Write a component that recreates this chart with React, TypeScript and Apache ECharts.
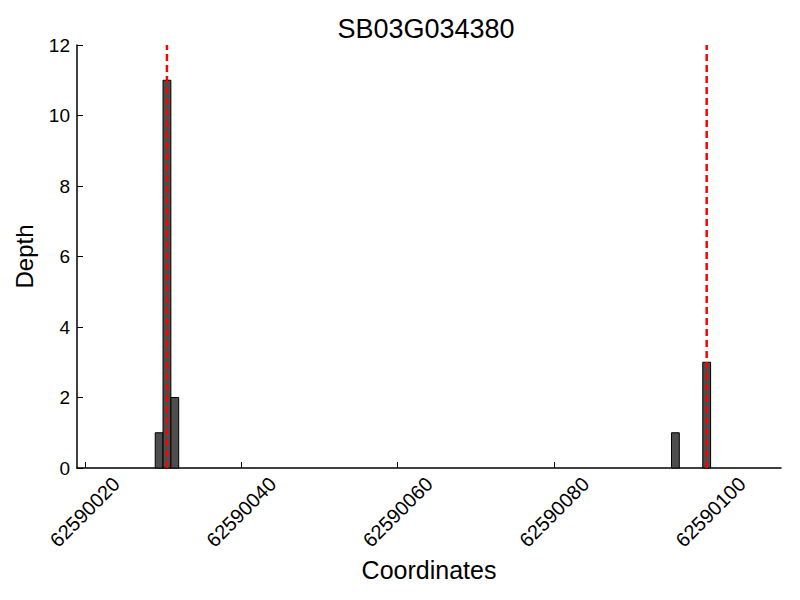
import React, { useEffect, useRef } from "react";
import * as echarts from "echarts";

const title = "SB03G034380";
const binStarts = [62590029, 62590030, 62590031, 62590095, 62590099];
const depths = [1, 11, 2, 1, 3];
const markerPositions = [62590030.5, 62590099.5];
const xTicks = [62590020, 62590040, 62590060, 62590080, 62590100];
const xMin = 62590019;
const xMax = 62590109;
const yMax = 12;

export default function App() {
  const ref = useRef<HTMLDivElement>(null);
  useEffect(() => {
    if (!ref.current) return;
    const chart = echarts.init(ref.current, null, { renderer: "svg" });
    const font = "Liberation Sans, Arial, sans-serif";
    chart.setOption({
      animation: false,
      backgroundColor: "#fff",
      title: {
        text: title,
        left: 421,
        top: 10,
        textAlign: "center",
        textStyle: { fontFamily: font, fontSize: 27, fontWeight: "normal", color: "#000" },
      },
      grid: { left: 77, top: 45, width: 704, height: 423, containLabel: false, outerBoundsMode: "none" },
      xAxis: {
        type: "value",
        min: xMin,
        max: xMax,
        name: "Coordinates",
        nameLocation: "middle",
        nameGap: 89,
        nameTextStyle: { fontFamily: font, fontSize: 25, color: "#000" },
        axisLine: { show: true, onZero: false, lineStyle: { color: "#000", width: 1.5 } },
        axisTick: { show: true, inside: true, length: 6, customValues: xTicks, lineStyle: { color: "#000" } },
        axisLabel: {
          customValues: xTicks,
          rotate: 45,
          align: "center",
          verticalAlign: "middle",
          fontFamily: font,
          fontSize: 20,
          color: "#000",
          margin: 44,
          formatter: (v: number) => String(v),
        },
        splitLine: { show: false },
      },
      yAxis: {
        type: "value",
        min: 0,
        max: yMax,
        interval: 2,
        name: "Depth",
        nameLocation: "middle",
        nameGap: 41,
        nameRotate: 90,
        nameTextStyle: { fontFamily: font, fontSize: 24, color: "#000" },
        axisLine: { show: true, lineStyle: { color: "#000", width: 1.5 } },
        axisTick: { show: true, inside: true, length: 6, lineStyle: { color: "#000" } },
        axisLabel: { fontFamily: font, fontSize: 19, color: "#000", margin: 7 },
        splitLine: { show: false },
      },
      series: [
        {
          type: "custom",
          data: binStarts.map((s, i) => [s, depths[i]]),
          renderItem: (params: any, api: any) => {
            const x0 = api.value(0);
            const h = api.value(1);
            const p0 = api.coord([x0, 0]);
            const p1 = api.coord([x0 + 1, h]);
            return {
              type: "rect",
              shape: { x: p0[0], y: p1[1], width: p1[0] - p0[0], height: p0[1] - p1[1] },
              style: { fill: "#4d4d4d", stroke: "#000", lineWidth: 1 },
            };
          },
          z: 2,
        },
        ...markerPositions.map((m) => ({
          type: "line",
          data: [
            [m, 0],
            [m, yMax],
          ],
          symbol: "none",
          lineStyle: { color: "#ff0000", width: 2.5, type: [7, 4] },
          z: 3,
        })),
      ],
    });
    return () => chart.dispose();
  }, []);
  return <div ref={ref} style={{ width: 800, height: 600, position: "absolute", left: 0, top: 0 }} />;
}
